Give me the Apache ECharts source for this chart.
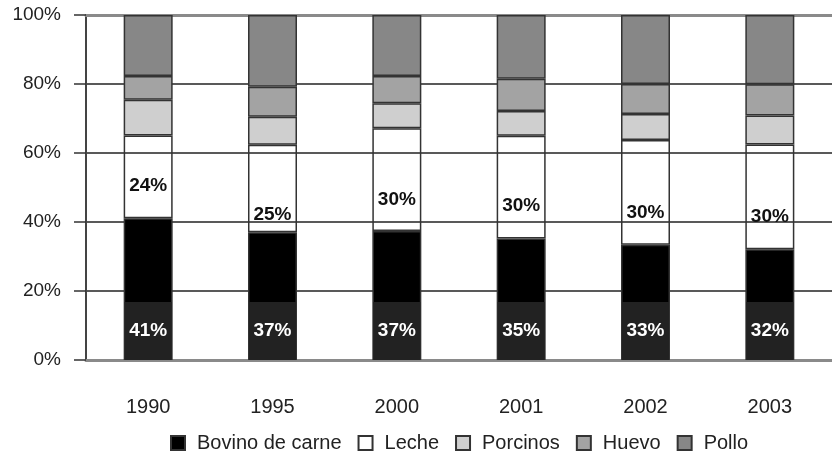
<!DOCTYPE html>
<html>
<head>
<meta charset="utf-8">
<script src="https://cdn.jsdelivr.net/npm/echarts@6/dist/echarts.min.js"></script>
<style>
    html, body { margin: 0; padding: 0; background: #fff; }
    #chart { width: 832px; height: 459px; }
</style>
</head>
<body>
<div id="chart"></div>
<script>
// data
const categories = ['1990', '1995', '2000', '2001', '2002', '2003']
const bovino = [41.1, 37.0, 37.4, 35.2, 33.4, 32.1]
const leche = [24.0, 25.4, 29.8, 29.8, 30.4, 30.4]
const porcinos = [10.3, 8.1, 7.2, 7.2, 7.5, 8.4]
const huevo = [6.9, 8.7, 7.9, 9.3, 8.7, 9.0]
const pollo = [17.7, 20.8, 17.7, 18.5, 20.0, 20.1]
const yTicks = [0, 20, 40, 60, 80, 100]

// label lift for the Leche labels
const lecheLabelLift = [23, 8, 22, 23, 23, 23]

const font = 'Liberation Sans, Arial, sans-serif'
const chartDom = document.getElementById('chart')
let myChart = echarts.init(chartDom)

function pct(p) {
    return Math.round(p.value) + '%'
}

function barSeries(name, data, color) {
    return {
        name: name,
        type: 'bar',
        stack: 'total',
        barWidth: 49,
        data: data,
        itemStyle: {
            color: color,
            borderColor: '#333',
            borderWidth: 1.5,
        },
    }
}

let sBovino = barSeries('Bovino de carne', bovino, '#000')
sBovino.label = {
    show: true,
    position: 'insideBottom',
    distance: 0,
    formatter: pct,
    color: '#fff',
    fontFamily: font,
    fontWeight: 'bold',
    fontSize: 19,
    backgroundColor: '#222',
    width: 47,
    height: 58,
    lineHeight: 58,
    align: 'center',
}

let sLeche = barSeries('Leche', leche.map((v, i) => ({
    value: v,
    label: { distance: lecheLabelLift[i] },
})), 'rgba(255,255,255,0)')
sLeche.label = {
    show: true,
    position: 'insideBottom',
    formatter: pct,
    color: '#111',
    fontFamily: font,
    fontWeight: 'bold',
    fontSize: 19,
}

let option = {
    animation: false,
    backgroundColor: '#fff',
    grid: {
        left: 86,
        top: 15,
        width: 758,
        bottom: 99,
    },
    legend: {
        left: 170,
        top: 433,
        padding: 0,
        icon: 'rect',
        itemWidth: 14,
        itemHeight: 14,
        itemGap: 16,
        textStyle: { fontFamily: font, fontSize: 20, color: '#222', padding: [0, 0, 0, 7] },
        data: ['Bovino de carne', 'Leche', 'Porcinos', 'Huevo', 'Pollo'],
    },
    xAxis: [
        {
            type: 'category',
            data: categories,
            axisTick: { show: false },
            axisLine: { lineStyle: { color: '#8a8a8a', width: 3 } },
            axisLabel: { margin: 37, fontFamily: font, fontSize: 20, color: '#222' },
        },
        {
            // gray frame line at 100%
            type: 'category',
            position: 'top',
            data: categories,
            axisTick: { show: false },
            axisLabel: { show: false },
            axisLine: { lineStyle: { color: '#8a8a8a', width: 3 } },
        },
    ],
    yAxis: {
        type: 'value',
        min: yTicks[0],
        max: yTicks[yTicks.length - 1],
        interval: 20,
        axisLine: { show: true, lineStyle: { color: '#444', width: 2 } },
        axisTick: { show: true, length: 12, lineStyle: { color: '#333', width: 1.5 } },
        axisLabel: { margin: 25, fontFamily: font, fontSize: 19, color: '#222', formatter: '{value}%' },
        splitLine: {
            lineStyle: {
                color: ['#8a8a8a', '#222', '#222', '#222', '#222', '#8a8a8a'],
                width: 1.5,
            },
        },
    },
    series: [
        sBovino,
        sLeche,
        barSeries('Porcinos', porcinos, '#cfcfcf'),
        barSeries('Huevo', huevo, '#a3a3a3'),
        barSeries('Pollo', pollo, '#878787'),
    ],
}

myChart.setOption(option)
</script>
</body>
</html>
